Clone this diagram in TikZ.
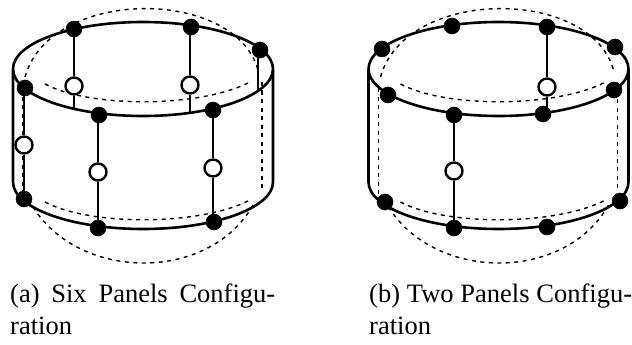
\documentclass[tikz,border=0pt]{standalone}
\usepackage{fontspec}
\setmainfont{Liberation Serif}
\usepackage{tikz}
\usetikzlibrary{positioning}
\tikzset{
  fulldot/.style={circle,fill=black,draw=black,line width=0.5pt,minimum size=16pt,inner sep=0pt},
  emptydot/.style={circle,fill=white,draw=black,line width=2.4pt,minimum size=17pt,inner sep=0pt},
  rim/.style={line width=2.6pt},
  strut/.style={line width=2.4pt},
  hidden/.style={line width=1.4pt,dash pattern=on 4pt off 4.5pt},
  caption/.style={anchor=north west,align=left,inner sep=0pt,font=\fontsize{26.5}{32}\selectfont}
}
% the drum: visible rim, side walls and hidden edges
\newcommand{\drumbody}[2]{
\draw[rim] (#1,69) ellipse (130 and 47);
\draw[rim] (#1-130,#2) -- (#1-130,182) arc (180:0:130 and 47) -- (#1+130,#2);
\draw[hidden] (#1-98,84) .. controls (#1-53,108) and (#1+57,108) .. (#1+107,82);
\draw[hidden] (#1-98,202) .. controls (#1-53,226) and (#1+57,226) .. (#1+107,200);
\draw[hidden] (#1-118,77) .. controls (#1-93,-13) and (#1+92,-13) .. (#1+115,70);
\draw[hidden] (#1-110,207) .. controls (#1-63,282) and (#1+67,282) .. (#1+110,205);
\draw[hidden] (#1-120,88) -- (#1-120,200);
\draw[hidden] (#1+119,82) -- (#1+119,190);
}
\begin{document}
\begin{tikzpicture}[x=1pt,y=-1pt]
\useasboundingbox (0,0) rectangle (632,345);
% six panels
\drumbody{143}{70}
\coordinate (e1) at (74,108);
\coordinate (e2) at (190,113);
\coordinate (e3) at (258,90);
\foreach \n/\x/\y in {a1/74/29,a2/191/27,a3/260/50,a4/25/88,a5/99/115,a6/213/110,a7/24/199,a8/98/228,a9/214/222}{
  \node[fulldot] (\n) at (\x,\y) {};
}
\foreach \n/\x/\y in {ah1/74/86,ah2/190/85,ah3/24/145,ah4/98/172,ah5/213/168}{
  \node[emptydot] (\n) at (\x,\y) {};
}
\draw[strut] (a1) -- (ah1) -- (e1);
\draw[strut] (ah2 |- a2) -- (ah2) -- (e2);
\draw[strut] (e3 |- a3) -- (e3);
\draw[strut] (ah3 |- a4) -- (ah3) -- (a7);
\draw[strut] (ah4 |- a5) -- (ah4) -- (a8);
\draw[strut] (a6) -- (ah5) -- (ah5 |- a9);
% two panels
\drumbody{498.5}{70}
\foreach \n/\x/\y in {b1/452/26,b2/547/27,b3/615/47,b4/382/49,b5/388/95,b6/454/115,b7/543/114,b8/614/90,b9/385/202,b10/454/228,b11/547/227,b12/620/201}{
  \node[fulldot] (\n) at (\x,\y) {};
}
\foreach \n/\x/\y in {bh1/547/87,bh2/454/171}{
  \node[emptydot] (\n) at (\x,\y) {};
}
\draw[strut] (b2) -- (bh1) -- (bh1 |- b7);
\draw[strut] (b6) -- (bh2) -- (b10);
% captions
\node[caption] (capa) at (10,284) {\makebox[265pt][s]{(a) Six Panels Configu-}\\ration};
\node[caption] (capb) at (369,284) {\makebox[263pt][s]{(b) Two Panels Configu-}\\ration};
\end{tikzpicture}
\end{document}
